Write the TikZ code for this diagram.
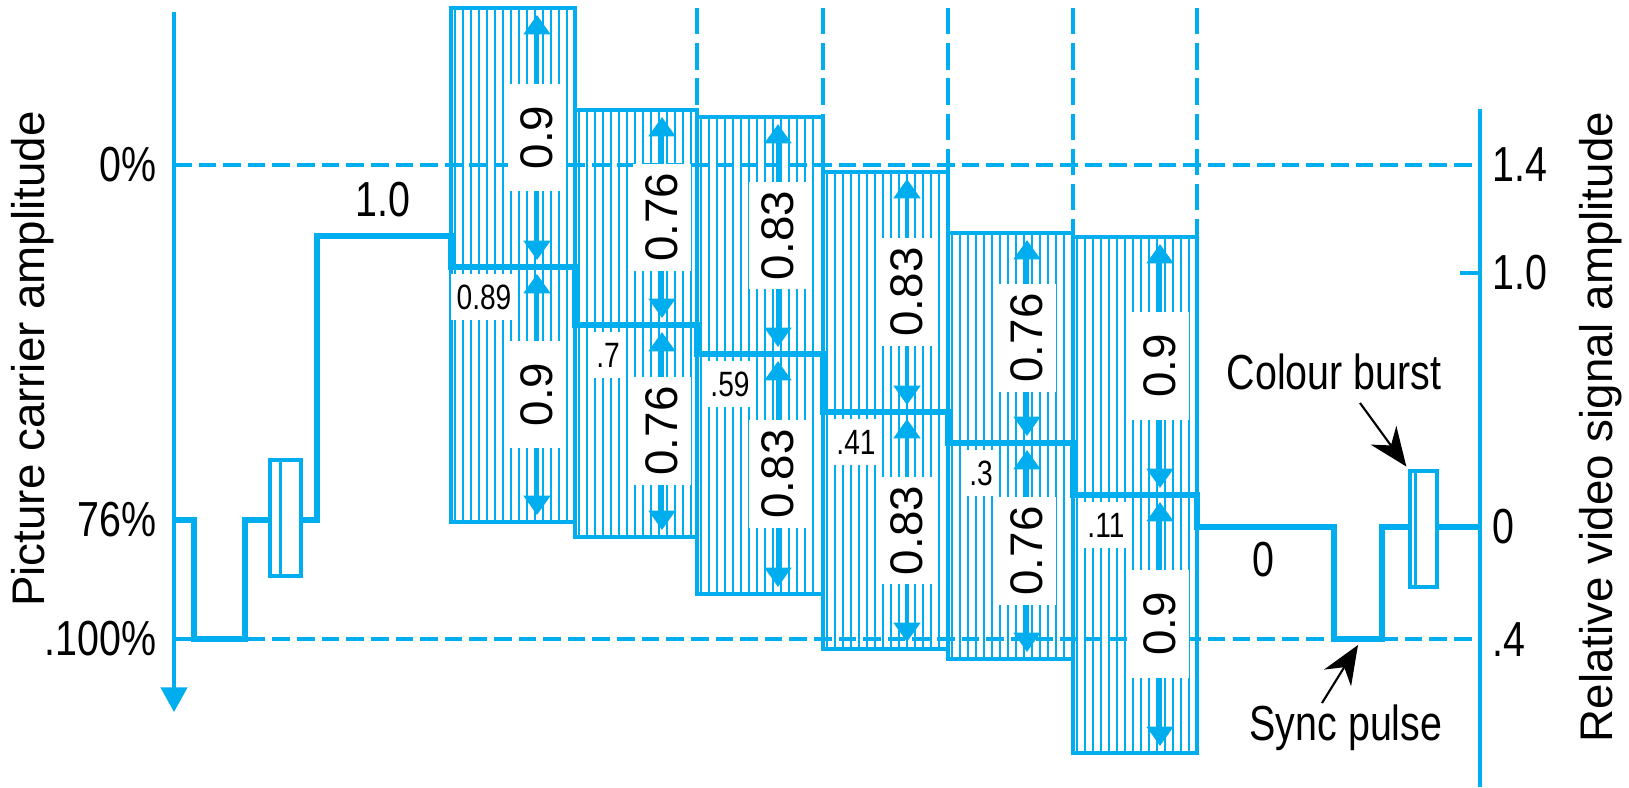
\documentclass[tikz,border=0pt]{standalone}
\usepackage{fontspec}
\setmainfont{Liberation Sans}
\newfontfamily\narrowsf{Liberation Sans}[FakeStretch=0.8]
\usetikzlibrary{arrows.meta, positioning}
\definecolor{sigcyan}{HTML}{00AEEF}

% left / right / top / bottom / level / arrow x / value / level label
\def\blocklist{451/575/8/522/267/537/0.9/0.89,
  575/697/110/537/325/662/0.76/.7,
  697/823/117/594/354/778/0.83/.59,
  823/948/172/649/412/907/0.83/.41,
  948/1073/233/659/443/1027/0.76/.3,
  1073/1197/237/753/495/1160/0.9/.11}

\begin{document}
\begin{tikzpicture}[
    x=0.01cm, y=-0.01cm,
    font=\narrowsf\fontsize{14}{16}\selectfont,
    axisln/.style={sigcyan, line width=0.9pt},
    gridln/.style={sigcyan, line width=0.9pt, dash pattern=on 5pt off 2pt},
    sigln/.style={sigcyan, line width=1.8pt},
    hatchln/.style={sigcyan, line width=0.7pt},
    blockln/.style={sigcyan, line width=0.9pt},
    dimarrow/.style={sigcyan, line width=1.1pt, {Triangle[length=5.5pt,width=7.5pt]}-{Triangle[length=5.5pt,width=7.5pt]}, shorten <=2pt, shorten >=2pt},
    valbox/.style={fill=white, text=black, rotate=90, inner sep=0pt, minimum width=1.07cm, minimum height=0.57cm, font=\rmfamily\fontsize{13}{15}\selectfont},
    lvlbox/.style={fill=white, text=black, inner xsep=1.5pt, inner ysep=3pt, font=\narrowsf\fontsize{10}{12}\selectfont},
    ticklbl/.style={inner sep=0pt},
    burstbox/.style={draw=sigcyan, fill=white, line width=0.9pt, minimum height=1.16cm, inner sep=0pt},
    axtitle/.style={rotate=90, inner sep=0pt, font=\rmfamily\fontsize{13}{15}\selectfont},
    pointer/.style={black, line width=0.6pt, -{Stealth[length=11pt,width=9pt]}}
  ]
  \useasboundingbox (0,0) rectangle (1629,787);

  % ------------------------------------------------
  % hatched blocks
  % ------------------------------------------------
  \foreach \vx/\vy in {697/110, 823/117, 948/172, 1073/233, 1197/237}
    \draw[gridln, dash pattern=on 7.5pt off 2.5pt] (\vx,8) -- (\vx,\vy);

  \foreach \xl/\xr/\yt/\yb/\lv/\ax/\val/\lbl in \blocklist{
    \foreach \k in {1,...,15}
      \draw[hatchln] (\xl+\k*8-4,\yt) -- (\xl+\k*8-4,\yb);
    \draw[blockln] (\xl,\yt) rectangle (\xr,\yb);
  }

  % ------------------------------------------------
  % grid lines and axes
  % ------------------------------------------------
  \draw[gridln] (174,165) -- (1480,165);
  \draw[gridln] (174,639) -- (1480,639);
  \draw[axisln, -{Triangle[length=7pt,width=7.5pt]}] (174,12) -- (174,712);
  \draw[axisln] (1480,109) -- (1480,787);
  \draw[axisln] (1460,273) -- (1480,273);

  % ------------------------------------------------
  % video signal
  % ------------------------------------------------
  \draw[sigln] (174,520) -- (194,520) -- (194,639) -- (245,639) -- (245,520) -- (317,520)
    -- (317,236) -- (451,236) -- (451,267) -- (575,267) -- (575,325) -- (697,325)
    -- (697,354) -- (823,354) -- (823,412) -- (948,412) -- (948,443) -- (1073,443)
    -- (1073,495) -- (1197,495) -- (1197,527) -- (1334,527) -- (1334,639)
    -- (1382,639) -- (1382,527) -- (1480,527);

  \node[burstbox, minimum width=0.31cm] (burst1) at (285.5,518) {};
  \draw[axisln] ([xshift=0.12cm]burst1.north west) -- ([xshift=0.12cm]burst1.south west);
  \node[burstbox, minimum width=0.27cm] (burst2) at (1423.5,529) {};
  \draw[axisln] ([xshift=0.07cm]burst2.north west) -- ([xshift=0.07cm]burst2.south west);

  % ------------------------------------------------
  % amplitudes in each step
  % ------------------------------------------------
  \foreach \xl/\xr/\yt/\yb/\lv/\ax/\val/\lbl [count=\i] in \blocklist{
    \draw[dimarrow] (\ax,\yt) -- node[valbox] (up\i) {\val} (\ax,\lv);
    \draw[dimarrow] (\ax,\lv) -- node[valbox] (dn\i) {\val} (\ax,\yb);
    \node[lvlbox] (lvl\i) at (\xl+33,\lv+30) {\lbl};
  }

  % ------------------------------------------------
  % labels
  % ------------------------------------------------
  \node[ticklbl, anchor=east] (pc0) at (157,165) {0\%};
  \node[ticklbl, anchor=east] (pc76) at (157,520) {76\%};
  \node[ticklbl, anchor=east] (pc100) at (157,639) {.100\%};
  \node[ticklbl, anchor=west] (rv14) at (1492,165) {1.4};
  \node[ticklbl, anchor=west] (rv10) at (1492,273) {1.0};
  \node[ticklbl, anchor=west] (rv0) at (1492,527) {0};
  \node[ticklbl, anchor=west] (rv4) at (1492,640) {.4};

  \node (white) at (383,200) {1.0};
  \node (black) at (1263,560) {0};

  \node[axtitle] (lefttitle) at (33,359) {Picture carrier amplitude};
  \node[axtitle] (righttitle) at (1601,427) {Relative video signal amplitude};

  \node (burstlbl) at (1334,372) {Colour burst};
  \node (synclbl) at (1346,728) {Sync pulse};
  \coordinate (bursttail) at (1360,403);
  \coordinate (synctail) at (1322,703);
  \coordinate (syncpulse) at (1358,645);
  \draw[pointer, shorten >=1pt] (bursttail) -- (burst2.north west);
  \draw[pointer] (synctail) -- (syncpulse);
\end{tikzpicture}
\end{document}
